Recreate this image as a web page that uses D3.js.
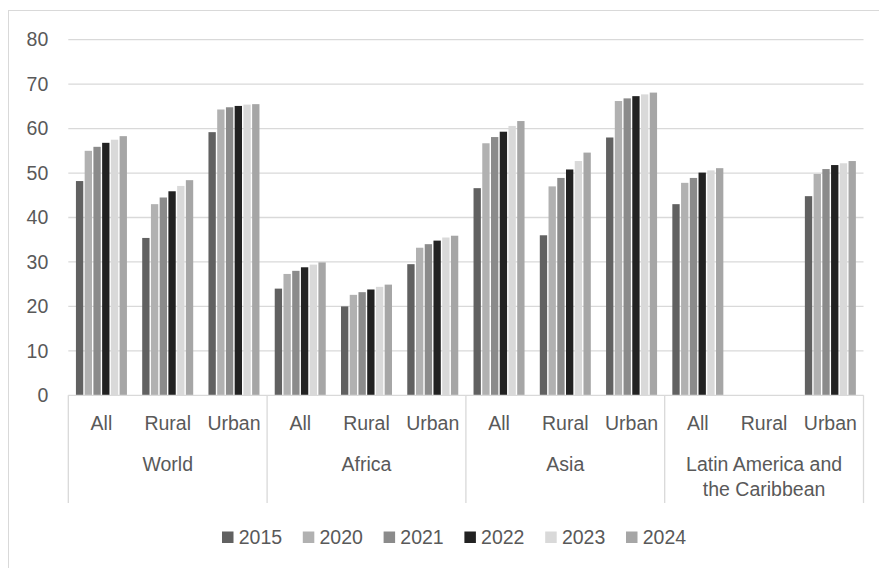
<!DOCTYPE html>
<html>
<head>
<meta charset="utf-8">
<script src="https://cdn.jsdelivr.net/npm/d3@7"></script>
<style>
  html, body { margin: 0; padding: 0; background: #ffffff; }
  svg { display: block; }
  text { font-family: "Liberation Sans", Arial, sans-serif; fill: #595959; }
</style>
</head>
<body>
<svg id="chart" width="879" height="568"></svg>
<script>
// Regions (outer axis level) and areas (inner axis level)
const regions = ["World", "Africa", "Asia", "Latin America and the Caribbean"];
const regionLines = [["World"], ["Africa"], ["Asia"], ["Latin America and", "the Caribbean"]];
const areas = ["All", "Rural", "Urban"];
const years = ["2015", "2020", "2021", "2022", "2023", "2024"];
const yTicks = [0, 10, 20, 30, 40, 50, 60, 70, 80];

// One value per region/area pair, in order World All..Urban, Africa ..., Asia ..., LAC ...
const v2015 = [48.2, 35.4, 59.2, 24.0, 20.0, 29.5, 46.6, 36.0, 58.0, 43.0, null, 44.8];
const v2020 = [55.0, 43.0, 64.3, 27.3, 22.6, 33.2, 56.7, 47.0, 66.2, 47.8, null, 49.8];
const v2021 = [55.9, 44.5, 64.8, 28.0, 23.2, 34.0, 58.1, 48.9, 66.8, 48.9, null, 50.9];
const v2022 = [56.8, 45.9, 65.1, 28.8, 23.8, 34.8, 59.3, 50.8, 67.3, 50.1, null, 51.8];
const v2023 = [57.5, 47.1, 65.4, 29.4, 24.4, 35.5, 60.6, 52.7, 67.7, 50.6, null, 52.2];
const v2024 = [58.3, 48.4, 65.5, 29.9, 24.9, 35.9, 61.7, 54.6, 68.1, 51.1, null, 52.7];
const seriesValues = [v2015, v2020, v2021, v2022, v2023, v2024];
const colors = ["#616161", "#b1b1b1", "#8b8b8b", "#222222", "#d9d9d9", "#a6a6a6"];

const svg = d3.select("#chart");

// outer chart frame
svg.append("rect")
  .attr("x", 8.5).attr("y", 10.5)
  .attr("width", 900).attr("height", 600)
  .attr("fill", "#ffffff").attr("stroke", "#d9d9d9").attr("stroke-width", 1);

const plotLeft = 68.3, plotRight = 863.5, plotTop = 39.7, plotBottom = 395.3;

const categories = [];
regions.forEach(r => areas.forEach(a => categories.push(r + "|" + a)));

const x0 = d3.scaleBand().domain(categories).range([plotLeft, plotRight]).paddingInner(0).paddingOuter(0);
const clusterW = 52.4;
const x1 = d3.scaleBand().domain(years)
  .range([(x0.bandwidth() - clusterW) / 2, (x0.bandwidth() + clusterW) / 2])
  .paddingInner(0.16).paddingOuter(0.08);
const y = d3.scaleLinear().domain([0, 80]).range([plotBottom, plotTop]);
const xRegion = d3.scaleBand().domain(regions).range([plotLeft, plotRight]);

// gridlines
svg.append("g").selectAll("line").data(yTicks.filter(t => t > 0)).join("line")
  .attr("x1", plotLeft).attr("x2", plotRight)
  .attr("y1", d => y(d)).attr("y2", d => y(d))
  .attr("stroke", "#d9d9d9").attr("stroke-width", 1.3);

// y axis labels
const yAxis = d3.axisLeft(y).tickValues(yTicks).tickSize(0).tickPadding(20);
const gy = svg.append("g").attr("transform", `translate(${plotLeft},0)`).call(yAxis);
gy.select(".domain").remove();
gy.selectAll("text")
  .attr("font-family", "Liberation Sans, Arial, sans-serif")
  .attr("font-size", 19.5).attr("fill", "#595959");

// bars
const barData = [];
seriesValues.forEach((vals, si) => {
  vals.forEach((v, ci) => {
    if (v !== null) barData.push({ year: years[si], cat: categories[ci], value: v, color: colors[si] });
  });
});
svg.append("g").selectAll("rect").data(barData).join("rect")
  .attr("x", d => x0(d.cat) + x1(d.year))
  .attr("width", x1.bandwidth())
  .attr("y", d => y(d.value))
  .attr("height", d => y(0) - y(d.value))
  .attr("fill", d => d.color);

// category axis baseline
svg.append("line")
  .attr("x1", plotLeft).attr("x2", plotRight)
  .attr("y1", plotBottom).attr("y2", plotBottom)
  .attr("stroke", "#d9d9d9").attr("stroke-width", 1.3);

// region separators
const seps = regions.map(r => xRegion(r)).concat([plotRight]);
svg.append("g").selectAll("line").data(seps).join("line")
  .attr("x1", d => d).attr("x2", d => d)
  .attr("y1", plotBottom).attr("y2", 503)
  .attr("stroke", "#d9d9d9").attr("stroke-width", 1.3);

// area labels
svg.append("g").selectAll("text").data(categories).join("text")
  .attr("x", d => x0(d) + x0.bandwidth() / 2)
  .attr("y", 429.5)
  .attr("text-anchor", "middle")
  .attr("font-size", 19.5)
  .text(d => d.split("|")[1]);

// region labels
const rg = svg.append("g").selectAll("text").data(regions).join("text")
  .attr("x", d => xRegion(d) + xRegion.bandwidth() / 2)
  .attr("y", 471)
  .attr("text-anchor", "middle")
  .attr("font-size", 19.5);
rg.each(function(d, i) {
  const t = d3.select(this);
  regionLines[i].forEach((line, li) => {
    t.append("tspan")
      .attr("x", xRegion(d) + xRegion.bandwidth() / 2)
      .attr("dy", li === 0 ? 0 : 25)
      .text(line);
  });
});

// legend
const legendX = d3.scalePoint().domain(years).range([222, 626]);
const lg = svg.append("g").selectAll("g").data(years).join("g")
  .attr("transform", d => `translate(${legendX(d)},0)`);
lg.append("rect")
  .attr("x", 0).attr("y", 531.5)
  .attr("width", 11.5).attr("height", 11.5)
  .attr("fill", (d, i) => colors[i]);
lg.append("text")
  .attr("x", 16.7).attr("y", 544)
  .attr("font-size", 19.5)
  .text(d => d);
</script>
</body>
</html>
